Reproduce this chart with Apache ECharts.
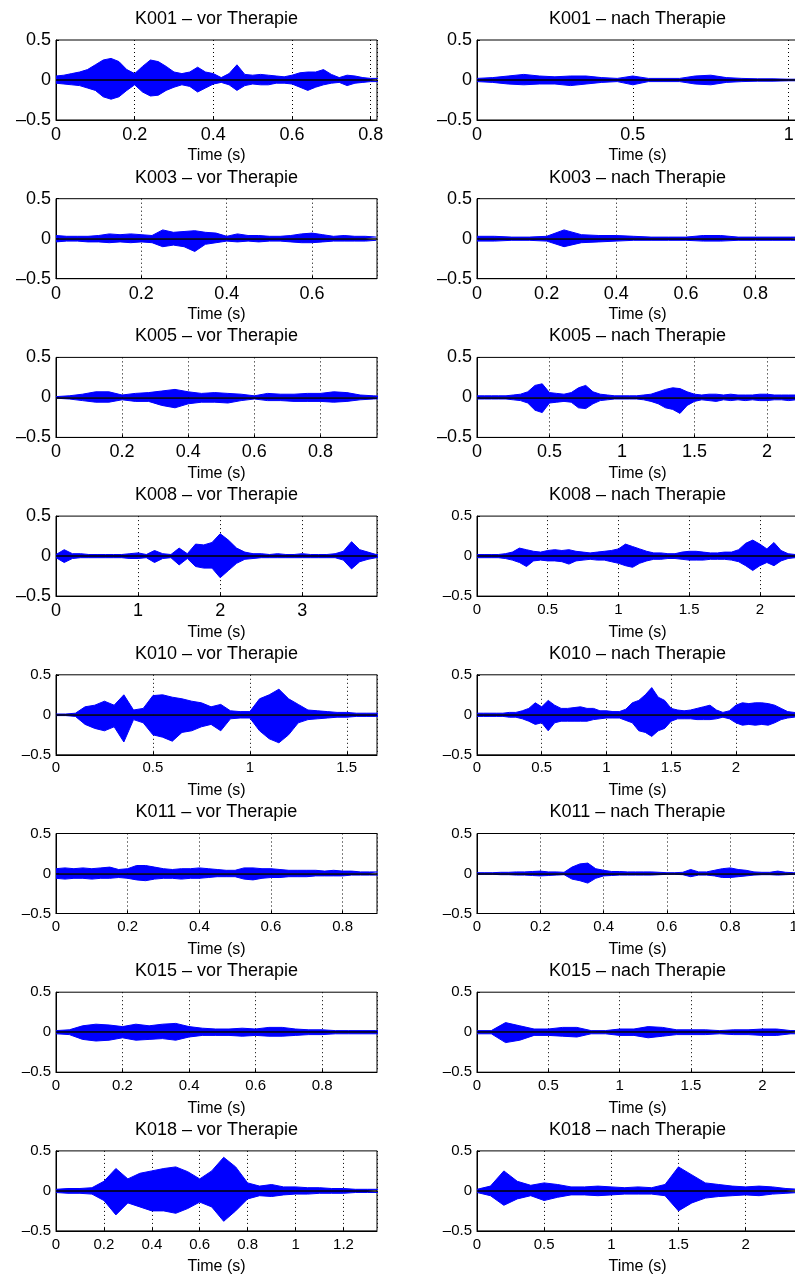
<!DOCTYPE html>
<html><head><meta charset="utf-8">
<script src="https://cdn.jsdelivr.net/npm/echarts@6/dist/echarts.min.js"></script>
<style>html,body{margin:0;padding:0;background:#fff}#c{width:795px;height:1274px}</style>
</head><body><div id="c"></div>
<script>
// ---- Plot metadata (row-major: left = vor, right = nach) ----
const titles = [
  'K001 – vor Therapie','K001 – nach Therapie',
  'K003 – vor Therapie','K003 – nach Therapie',
  'K005 – vor Therapie','K005 – nach Therapie',
  'K008 – vor Therapie','K008 – nach Therapie',
  'K010 – vor Therapie','K010 – nach Therapie',
  'K011 – vor Therapie','K011 – nach Therapie',
  'K015 – vor Therapie','K015 – nach Therapie',
  'K018 – vor Therapie','K018 – nach Therapie'
];
const xMaxes      = [0.816,1.03, 0.752,0.922, 0.971,2.214, 3.91,2.27, 1.656,2.48, 0.896,1.014, 0.965,2.25, 1.34,2.39];
const xIntervals  = [0.2,0.5, 0.2,0.2, 0.2,0.5, 1,0.5, 0.5,0.5, 0.2,0.2, 0.2,0.5, 0.2,0.5];
const sampleSteps = [0.02,0.05, 0.025,0.05, 0.04,0.05, 0.1,0.05, 0.05,0.05, 0.025,0.025, 0.04,0.1, 0.05,0.1];
const yTicks = [-0.5, 0, 0.5];
const xLabel = 'Time (s)';

// ---- Waveform envelopes (upper / lower amplitude) ----
const k001VorUp = [0.05,0.06,0.08,0.10,0.13,0.19,0.25,0.27,0.23,0.13,0.08,0.17,0.25,0.23,0.17,0.10,0.08,0.10,0.16,0.10,0.08,0.03,0.08,0.19,0.07,0.06,0.07,0.06,0.05,0.04,0.06,0.09,0.10,0.10,0.13,0.07,0.03,0.06,0.05,0.03,0.02,0.02];
const k001VorLo = [-0.04,-0.05,-0.06,-0.07,-0.10,-0.13,-0.21,-0.24,-0.21,-0.13,-0.06,-0.15,-0.20,-0.19,-0.13,-0.09,-0.06,-0.08,-0.15,-0.10,-0.05,-0.03,-0.06,-0.13,-0.07,-0.05,-0.06,-0.06,-0.04,-0.04,-0.05,-0.09,-0.13,-0.09,-0.06,-0.04,-0.03,-0.07,-0.04,-0.03,-0.02,-0.02];
const k001NachUp = [0.02,0.03,0.05,0.07,0.05,0.04,0.05,0.05,0.03,0.02,0.05,0.02,0.02,0.02,0.05,0.06,0.03,0.02,0.015,0.015,0.01,0.01];
const k001NachLo = [-0.02,-0.03,-0.05,-0.06,-0.05,-0.05,-0.07,-0.05,-0.03,-0.02,-0.06,-0.02,-0.02,-0.02,-0.05,-0.06,-0.03,-0.02,-0.015,-0.015,-0.01,-0.01];
const k003VorUp = [0.04,0.03,0.03,0.03,0.04,0.06,0.05,0.06,0.05,0.04,0.11,0.08,0.09,0.10,0.08,0.07,0.03,0.06,0.04,0.04,0.03,0.03,0.04,0.06,0.07,0.05,0.03,0.04,0.03,0.03,0.02];
const k003VorLo = [-0.04,-0.03,-0.03,-0.04,-0.04,-0.05,-0.04,-0.05,-0.04,-0.05,-0.10,-0.08,-0.10,-0.16,-0.07,-0.05,-0.03,-0.04,-0.03,-0.04,-0.03,-0.03,-0.04,-0.05,-0.05,-0.04,-0.03,-0.03,-0.03,-0.03,-0.02];
const k003NachUp = [0.03,0.03,0.02,0.02,0.03,0.11,0.05,0.04,0.04,0.03,0.02,0.02,0.02,0.04,0.04,0.02,0.02,0.02,0.02,0.02];
const k003NachLo = [-0.03,-0.03,-0.02,-0.02,-0.03,-0.10,-0.05,-0.04,-0.03,-0.02,-0.02,-0.02,-0.02,-0.03,-0.03,-0.02,-0.02,-0.02,-0.02,-0.02];
const k005VorUp = [0.01,0.02,0.04,0.07,0.07,0.03,0.05,0.06,0.08,0.10,0.07,0.05,0.06,0.05,0.04,0.02,0.05,0.04,0.04,0.05,0.05,0.07,0.06,0.03,0.02,0.01];
const k005VorLo = [-0.01,-0.02,-0.04,-0.06,-0.06,-0.03,-0.05,-0.05,-0.10,-0.13,-0.08,-0.06,-0.06,-0.07,-0.04,-0.02,-0.04,-0.04,-0.05,-0.05,-0.05,-0.06,-0.05,-0.03,-0.02,-0.01];
const k005NachUp = [0.02,0.02,0.02,0.02,0.02,0.03,0.04,0.07,0.15,0.17,0.06,0.05,0.04,0.06,0.12,0.15,0.07,0.04,0.03,0.02,0.02,0.02,0.02,0.03,0.04,0.07,0.10,0.12,0.11,0.07,0.04,0.03,0.04,0.04,0.03,0.04,0.03,0.03,0.03,0.04,0.04,0.03,0.03,0.03,0.03,0.03];
const k005NachLo = [-0.02,-0.02,-0.02,-0.02,-0.02,-0.03,-0.04,-0.07,-0.16,-0.19,-0.07,-0.06,-0.05,-0.06,-0.13,-0.14,-0.08,-0.04,-0.03,-0.02,-0.02,-0.02,-0.02,-0.03,-0.05,-0.08,-0.13,-0.15,-0.20,-0.10,-0.05,-0.03,-0.04,-0.05,-0.03,-0.04,-0.03,-0.04,-0.03,-0.04,-0.04,-0.03,-0.03,-0.04,-0.03,-0.03];
const k008VorUp = [0.02,0.08,0.03,0.03,0.02,0.02,0.02,0.02,0.02,0.03,0.04,0.02,0.07,0.03,0.02,0.10,0.03,0.15,0.14,0.17,0.28,0.20,0.10,0.05,0.03,0.03,0.02,0.03,0.02,0.02,0.03,0.02,0.02,0.02,0.03,0.06,0.18,0.08,0.05,0.02,0.02];
const k008VorLo = [-0.02,-0.08,-0.03,-0.02,-0.02,-0.02,-0.02,-0.02,-0.02,-0.03,-0.03,-0.02,-0.08,-0.03,-0.02,-0.11,-0.03,-0.13,-0.15,-0.15,-0.27,-0.18,-0.09,-0.04,-0.03,-0.02,-0.02,-0.02,-0.02,-0.02,-0.02,-0.02,-0.02,-0.02,-0.02,-0.05,-0.16,-0.07,-0.04,-0.02,-0.02];
const k008NachUp = [0.02,0.02,0.02,0.02,0.03,0.05,0.10,0.08,0.06,0.05,0.07,0.08,0.07,0.08,0.06,0.05,0.04,0.05,0.06,0.07,0.09,0.15,0.12,0.09,0.06,0.04,0.04,0.03,0.03,0.05,0.06,0.06,0.05,0.04,0.04,0.05,0.05,0.08,0.16,0.20,0.15,0.09,0.17,0.07,0.03,0.02,0.02];
const k008NachLo = [-0.02,-0.02,-0.02,-0.02,-0.03,-0.05,-0.08,-0.13,-0.06,-0.05,-0.06,-0.06,-0.07,-0.10,-0.06,-0.05,-0.04,-0.05,-0.05,-0.07,-0.09,-0.12,-0.14,-0.09,-0.06,-0.04,-0.04,-0.03,-0.03,-0.04,-0.05,-0.05,-0.05,-0.04,-0.04,-0.04,-0.05,-0.07,-0.12,-0.18,-0.12,-0.08,-0.12,-0.06,-0.03,-0.02,-0.02];
const k010VorUp = [0.01,0.01,0.02,0.10,0.12,0.17,0.12,0.25,0.06,0.08,0.24,0.25,0.22,0.20,0.17,0.15,0.10,0.13,0.05,0.04,0.04,0.20,0.25,0.32,0.20,0.13,0.06,0.05,0.04,0.03,0.03,0.02,0.02,0.02,0.02];
const k010VorLo = [-0.01,-0.01,-0.02,-0.12,-0.17,-0.20,-0.15,-0.34,-0.06,-0.10,-0.25,-0.28,-0.33,-0.22,-0.20,-0.15,-0.12,-0.20,-0.05,-0.04,-0.04,-0.20,-0.30,-0.35,-0.25,-0.10,-0.06,-0.05,-0.04,-0.03,-0.03,-0.02,-0.02,-0.02,-0.02];
const k010NachUp = [0.02,0.02,0.02,0.02,0.02,0.03,0.03,0.05,0.08,0.15,0.10,0.18,0.12,0.08,0.08,0.09,0.10,0.08,0.08,0.05,0.05,0.04,0.04,0.07,0.15,0.18,0.25,0.34,0.22,0.18,0.08,0.06,0.05,0.06,0.08,0.10,0.12,0.06,0.03,0.05,0.12,0.15,0.14,0.15,0.15,0.14,0.12,0.08,0.04,0.03,0.02];
const k010NachLo = [-0.02,-0.02,-0.02,-0.02,-0.02,-0.03,-0.03,-0.05,-0.08,-0.12,-0.10,-0.20,-0.10,-0.08,-0.08,-0.08,-0.08,-0.08,-0.06,-0.05,-0.04,-0.04,-0.04,-0.07,-0.10,-0.20,-0.22,-0.27,-0.20,-0.17,-0.08,-0.05,-0.05,-0.05,-0.06,-0.06,-0.06,-0.05,-0.03,-0.05,-0.10,-0.13,-0.12,-0.13,-0.12,-0.13,-0.10,-0.06,-0.04,-0.03,-0.02];
const k011VorUp = [0.06,0.07,0.06,0.07,0.06,0.07,0.08,0.05,0.06,0.10,0.10,0.08,0.06,0.05,0.06,0.06,0.07,0.06,0.05,0.04,0.04,0.07,0.07,0.06,0.06,0.05,0.04,0.04,0.04,0.04,0.03,0.04,0.03,0.03,0.02,0.02,0.02];
const k011VorLo = [-0.06,-0.07,-0.06,-0.06,-0.07,-0.06,-0.06,-0.05,-0.06,-0.08,-0.09,-0.07,-0.06,-0.06,-0.07,-0.06,-0.06,-0.05,-0.04,-0.04,-0.04,-0.07,-0.08,-0.06,-0.05,-0.05,-0.04,-0.04,-0.04,-0.03,-0.03,-0.03,-0.03,-0.02,-0.02,-0.02,-0.02];
const k011NachUp = [0.01,0.01,0.01,0.015,0.015,0.02,0.02,0.025,0.03,0.02,0.02,0.015,0.08,0.12,0.13,0.06,0.04,0.025,0.025,0.02,0.02,0.02,0.02,0.015,0.01,0.01,0.015,0.05,0.02,0.02,0.04,0.06,0.07,0.05,0.04,0.02,0.015,0.015,0.03,0.015,0.01,0.01];
const k011NachLo = [-0.01,-0.01,-0.01,-0.015,-0.015,-0.02,-0.02,-0.025,-0.03,-0.025,-0.02,-0.015,-0.07,-0.09,-0.12,-0.06,-0.03,-0.025,-0.02,-0.02,-0.02,-0.02,-0.02,-0.015,-0.01,-0.01,-0.015,-0.04,-0.02,-0.02,-0.03,-0.05,-0.05,-0.04,-0.03,-0.02,-0.015,-0.015,-0.02,-0.015,-0.01,-0.01];
const k015VorUp = [0.02,0.03,0.08,0.10,0.09,0.07,0.10,0.08,0.10,0.11,0.07,0.05,0.04,0.04,0.05,0.04,0.06,0.06,0.04,0.03,0.03,0.02,0.02,0.02,0.02,0.02];
const k015VorLo = [-0.02,-0.03,-0.09,-0.11,-0.10,-0.07,-0.10,-0.09,-0.08,-0.10,-0.06,-0.04,-0.04,-0.04,-0.05,-0.04,-0.05,-0.05,-0.04,-0.03,-0.03,-0.02,-0.02,-0.02,-0.02,-0.02];
const k015NachUp = [0.02,0.02,0.12,0.08,0.04,0.04,0.06,0.06,0.02,0.02,0.04,0.04,0.07,0.06,0.03,0.03,0.03,0.02,0.03,0.03,0.04,0.04,0.02,0.02];
const k015NachLo = [-0.02,-0.02,-0.13,-0.10,-0.04,-0.04,-0.05,-0.06,-0.02,-0.02,-0.04,-0.04,-0.07,-0.05,-0.03,-0.03,-0.03,-0.02,-0.03,-0.03,-0.04,-0.04,-0.02,-0.02];
const k018VorUp = [0.02,0.03,0.03,0.04,0.12,0.28,0.15,0.22,0.25,0.28,0.30,0.24,0.15,0.25,0.42,0.30,0.10,0.06,0.08,0.05,0.05,0.04,0.04,0.03,0.03,0.02,0.02,0.02];
const k018VorLo = [-0.02,-0.03,-0.03,-0.04,-0.12,-0.30,-0.15,-0.20,-0.25,-0.25,-0.28,-0.22,-0.14,-0.20,-0.38,-0.25,-0.10,-0.06,-0.07,-0.05,-0.04,-0.04,-0.03,-0.03,-0.03,-0.02,-0.02,-0.02];
const k018NachUp = [0.02,0.06,0.25,0.12,0.07,0.10,0.08,0.05,0.05,0.06,0.05,0.04,0.05,0.04,0.08,0.30,0.20,0.10,0.08,0.06,0.05,0.06,0.05,0.03,0.02];
const k018NachLo = [-0.02,-0.06,-0.18,-0.10,-0.06,-0.12,-0.08,-0.05,-0.05,-0.06,-0.05,-0.04,-0.04,-0.04,-0.06,-0.25,-0.15,-0.09,-0.07,-0.06,-0.05,-0.06,-0.04,-0.03,-0.02];

const upperSets = [k001VorUp,k001NachUp,k003VorUp,k003NachUp,k005VorUp,k005NachUp,k008VorUp,k008NachUp,k010VorUp,k010NachUp,k011VorUp,k011NachUp,k015VorUp,k015NachUp,k018VorUp,k018NachUp];
const lowerSets = [k001VorLo,k001NachLo,k003VorLo,k003NachLo,k005VorLo,k005NachLo,k008VorLo,k008NachLo,k010VorLo,k010NachLo,k011VorLo,k011NachLo,k015VorLo,k015NachLo,k018VorLo,k018NachLo];

// ---- Build chart ----
const FONT = '"Liberation Sans", Arial, Helvetica, sans-serif';
const BLUE = '#0000ff';
const fmtY = v => (v < 0 ? '\u2013' + (-v) : String(v));
const toPoints = (arr, step) => arr.map((v, i) => [+(i * step).toFixed(4), v]);

const grids = [], xAxes = [], yAxes = [], series = [], titleOpts = [];
for (let k = 0; k < 16; k++) {
  const row = Math.floor(k / 2), col = k % 2;
  const left = col === 0 ? 56 : 477;
  const top = 40 + row * 158.7;
  const w = 321, h = 80;
  const small = col === 0 ? row >= 4 : row >= 3;
  const fs = small ? 15 : 18;
  grids.push({left: left, top: top, width: w, height: h, show: true, borderColor: '#000', borderWidth: 1,
    backgroundColor: '#fff', containLabel: false, outerBoundsMode: 'none'});
  titleOpts.push({text: titles[k], left: left + w / 2, top: top - 30, textAlign: 'center', padding: 0,
    textStyle: {fontSize: 18, fontWeight: 'normal', color: '#000', fontFamily: FONT}});
  xAxes.push({gridIndex: k, type: 'value', min: 0, max: xMaxes[k], interval: xIntervals[k],
    axisLine: {show: true, onZero: false, lineStyle: {color: '#000', width: 1}},
    axisTick: {show: true, inside: true, length: 3, lineStyle: {color: '#000'}},
    axisLabel: {fontSize: fs, color: '#000', fontFamily: FONT, margin: 6, showMaxLabel: false},
    splitLine: {show: true, lineStyle: {color: '#000', width: 1, type: [1, 3]}},
    name: xLabel, nameLocation: 'middle', nameGap: 28,
    nameTextStyle: {fontSize: 16, color: '#000', fontFamily: FONT}});
  yAxes.push({gridIndex: k, type: 'value', min: yTicks[0], max: yTicks[2], interval: 0.5,
    axisLine: {show: true, lineStyle: {color: '#000', width: 1}},
    axisTick: {show: true, inside: true, length: 3, lineStyle: {color: '#000'}},
    axisLabel: {fontSize: fs, color: '#000', fontFamily: FONT, margin: 5, formatter: fmtY},
    splitLine: {show: false}});
  const base = {type: 'line', xAxisIndex: k, yAxisIndex: k, symbol: 'none', showSymbol: false, silent: true,
    clip: true, animation: false, lineStyle: {color: BLUE, width: 1}, areaStyle: {color: BLUE, opacity: 1}};
  series.push(Object.assign({}, base, {data: toPoints(upperSets[k], sampleSteps[k])}));
  series.push(Object.assign({}, base, {data: toPoints(lowerSets[k], sampleSteps[k]),
    markLine: {silent: true, symbol: 'none', animation: false, label: {show: false},
      lineStyle: {color: '#000', width: 1.5, type: 'solid'}, data: [{yAxis: 0}]}}));
}

const chart = echarts.init(document.getElementById('c'), null, {renderer: 'canvas'});
chart.setOption({
  animation: false,
  backgroundColor: '#fff',
  title: titleOpts,
  grid: grids,
  xAxis: xAxes,
  yAxis: yAxes,
  series: series
});
</script></body></html>
